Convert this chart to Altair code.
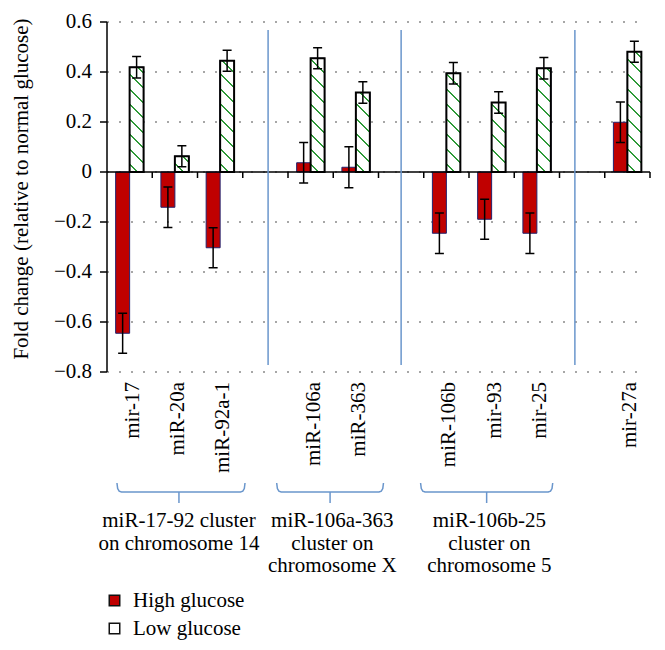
import math
import altair as alt
import pandas as pd

# ---------------- data ----------------
categories = ['mir-17', 'miR-20a', 'miR-92a-1', '', 'miR-106a', 'miR-363', '',
              'miR-106b', 'mir-93', 'mir-25', '', 'mir-27a']
mirnas = ['mir-17', 'miR-20a', 'miR-92a-1', 'miR-106a', 'miR-363',
          'miR-106b', 'mir-93', 'mir-25', 'mir-27a']
high_glucose = [-0.645, -0.141, -0.303, 0.037, 0.019, -0.245, -0.189, -0.245, 0.199]
high_err = [0.080, 0.081, 0.080, 0.081, 0.082, 0.081, 0.080, 0.081, 0.081]
low_glucose = [0.419, 0.063, 0.445, 0.455, 0.318, 0.395, 0.278, 0.415, 0.481]
low_err = [0.043, 0.042, 0.042, 0.042, 0.043, 0.043, 0.043, 0.043, 0.042]
groups = ['High glucose', 'Low glucose']
y_ticks = [-0.8, -0.6, -0.4, -0.2, 0, 0.2, 0.4, 0.6]
y_tick_labels = ['\u22120.8', '\u22120.6', '\u22120.4', '\u22120.2', '0', '0.2', '0.4', '0.6']
y_title = 'Fold change (relative to normal glucose)'
cluster_labels = ['miR-17-92 cluster\non chromosome 14',
                  'miR-106a-363\ncluster on\nchromosome X',
                  'miR-106b-25\ncluster on\nchromosome 5']

# ---------------- layout / style ----------------
W, H = 543, 350
TOP = 22
Y_MIN, Y_MAX = -0.8, 0.6
PPU = H / (Y_MAX - Y_MIN)
N_BANDS = len(categories)
PX_UNIT = W / N_BANDS
BW = 13.97 / PX_UNIT          # bar width in band units
CAP = 4.5 / PX_UNIT           # half cap width in band units
FONT = 'Liberation Serif'
FS = 21
RED = '#C00000'
GREEN = '#2E9A38'
BLUE = '#6A96CC'

sep_pos = [3.56, 6.5, 10.34]
brace_spans = [(0.22, 3.05, 1.59), (3.75, 6.11, 4.93), (6.93, 9.85, 8.39)]
label_centers = [1.59, 4.98, 8.45]


def y_of_px(px):
    return Y_MAX - (px - TOP) / PPU


def u(px):
    """horizontal pixel distance -> band units"""
    return px / PX_UNIT


idx = {c: i for i, c in enumerate(categories) if c}

rows = []
for i, m in enumerate(mirnas):
    c = idx[m] + 0.5
    rows.append(dict(cat=m, group=groups[0], v=high_glucose[i], x0=c - BW, x1=c, xc=c - BW / 2,
                     lo=high_glucose[i] - high_err[i], hi=high_glucose[i] + high_err[i]))
    rows.append(dict(cat=m, group=groups[1], v=low_glucose[i], x0=c, x1=c + BW, xc=c + BW / 2,
                     lo=low_glucose[i] - low_err[i], hi=low_glucose[i] + low_err[i]))
df = pd.DataFrame(rows)
df['zero'] = 0.0
df['ca'] = df['xc'] - CAP
df['cb'] = df['xc'] + CAP

xs = alt.Scale(domain=[0, N_BANDS], nice=False, zero=False)
ys = alt.Scale(domain=[Y_MIN, Y_MAX], nice=False, zero=False)


def X(f):
    return alt.X(f, scale=xs, axis=None)


def Y(f):
    return alt.Y(f, scale=ys, axis=None)


# ---------------- value axis (drawn through the y scale) ----------------
yt = pd.DataFrame({'y': y_ticks, 't': y_tick_labels})
yt['x0'] = 0.0
yt['xg'] = float(N_BANDS) - u(5)
yt['xt'] = -u(7)
yt['xl'] = -u(15)
grid = alt.Chart(yt).mark_rule(color='#8a8a8a', strokeWidth=1.5, strokeDash=[2, 10]).encode(
    x=X('x0:Q'), x2='xg:Q', y=Y('y:Q'))
y_tick_marks = alt.Chart(yt).mark_rule(color='black', strokeWidth=1.5).encode(
    x=X('xt:Q'), x2='x0:Q', y=Y('y:Q'))
y_labels = alt.Chart(yt).mark_text(
    font=FONT, fontSize=FS, color='black', align='right', baseline='middle').encode(
    x=X('xl:Q'), y=Y('y:Q'), text='t:N')
y_dom_df = pd.DataFrame({'x': [0.0], 'y': [Y_MIN], 'y2': [Y_MAX]})
y_domain = alt.Chart(y_dom_df).mark_rule(color='black', strokeWidth=1.5).encode(
    x=X('x:Q'), y=Y('y:Q'), y2='y2:Q')
yt_df = pd.DataFrame({'x': [-u(85)], 'y': [y_of_px(189)], 't': [y_title]})
y_title_mark = alt.Chart(yt_df).mark_text(
    font=FONT, fontSize=FS, color='black', angle=270, align='center', baseline='middle').encode(
    x=X('x:Q'), y=Y('y:Q'), text='t:N')

base = alt.Chart(df)

main_bars = base.mark_bar(strokeWidth=1).encode(
    x=X('x0:Q'), x2='x1:Q',
    y=Y('v:Q'), y2='zero:Q',
    fill=alt.Fill('group:N', scale=alt.Scale(domain=groups, range=[RED, '#FFFFFF']),
                  legend=alt.Legend(title=None, orient='none', legendX=-3, legendY=568,
                                    symbolType='square', symbolSize=110,
                                    symbolStrokeWidth=1.5, symbolStrokeColor='#111111',
                                    labelFont=FONT, labelFontSize=FS, labelColor='black',
                                    labelOffset=8, rowPadding=6, padding=0)),
    stroke=alt.value('#22226e'),
)


def hatch(value):
    w = 13.97
    h = value * PPU
    t = (w + h) / (w * w + h * h)
    L = (w + h) / math.sqrt(2)
    sp = 10.6
    hw = 0.7
    stops = [{'offset': 0, 'color': 'white'}]
    d = sp * 0.55
    while d + hw < L:
        o1 = (d - hw) / L
        o2 = (d + hw) / L
        stops += [{'offset': o1, 'color': 'white'}, {'offset': o1, 'color': GREEN},
                  {'offset': o2, 'color': GREEN}, {'offset': o2, 'color': 'white'}]
        d += sp
    stops.append({'offset': 1, 'color': 'white'})
    return {'gradient': 'linear', 'x1': 0, 'y1': 1, 'x2': t * w, 'y2': 1 - t * h,
            'stops': stops}


hatch_layers = []
for i, m in enumerate(mirnas):
    hatch_layers.append(
        base.transform_filter((alt.datum.cat == m) & (alt.datum.group == groups[1]))
        .mark_bar(fill=hatch(low_glucose[i]), stroke='black', strokeWidth=2)
        .encode(x=X('x0:Q'), x2='x1:Q', y=Y('v:Q'), y2='zero:Q')
    )

err_rules = base.mark_rule(color='black', strokeWidth=1.5).encode(
    x=X('xc:Q'), y=Y('lo:Q'), y2='hi:Q')
cap_lo = base.mark_rule(color='black', strokeWidth=1.5).encode(
    x=X('ca:Q'), x2='cb:Q', y=Y('lo:Q'))
cap_hi = base.mark_rule(color='black', strokeWidth=1.5).encode(
    x=X('ca:Q'), x2='cb:Q', y=Y('hi:Q'))

# horizontal category axis drawn at zero, with ticks at band boundaries
zero_df = pd.DataFrame({'x': [0.0], 'x2': [float(N_BANDS)], 'y': [0.0]})
zero_line = alt.Chart(zero_df).mark_rule(color='black', strokeWidth=1.5).encode(
    x=X('x:Q'), x2='x2:Q', y=Y('y:Q'))
bt_df = pd.DataFrame({'x': [float(k) for k in range(1, N_BANDS + 1)]})
bt_df['y'] = 0.0
bt_df['y2'] = -6 / PPU
band_ticks = alt.Chart(bt_df).mark_rule(color='black', strokeWidth=1.5).encode(
    x=X('x:Q'), y=Y('y:Q'), y2='y2:Q')

# category labels under the plot
cat_df = pd.DataFrame({'t': mirnas, 'x': [idx[m] + 0.5 for m in mirnas],
                       'y': [y_of_px(382)] * len(mirnas)})
cat_labels = alt.Chart(cat_df).mark_text(
    font=FONT, fontSize=FS, color='black', angle=270, align='right', baseline='middle',
    dy=3).encode(x=X('x:Q'), y=Y('y:Q'), text='t:N')

sep_df = pd.DataFrame({'x': sep_pos, 'y': [0.568] * 3, 'y2': [-0.772] * 3})
seps = alt.Chart(sep_df).mark_rule(color=BLUE, strokeWidth=1.5).encode(
    x=X('x:Q'), y=Y('y:Q'), y2='y2:Q')

hook = [(0, 483), (0.7, 488.5), (2.2, 491.2), (4.5, 492)]
pts = []
for b, (l, r, c) in enumerate(brace_spans):
    seq = [(l + u(dx), py) for dx, py in hook] + \
          [(r - u(dx), py) for dx, py in reversed(hook)]
    for j, (xx, py) in enumerate(seq):
        pts.append(dict(b=b, i=j, x=xx, y=y_of_px(py)))
brace_df = pd.DataFrame(pts)
braces = alt.Chart(brace_df).mark_line(color=BLUE, strokeWidth=1.5).encode(
    x=X('x:Q'), y=Y('y:Q'), detail='b:N', order='i:Q')

tick_df = pd.DataFrame({'x': [c for _, _, c in brace_spans],
                        'y': [y_of_px(492)] * 3, 'y2': [y_of_px(503)] * 3})
brace_ticks = alt.Chart(tick_df).mark_rule(color=BLUE, strokeWidth=1.5).encode(
    x=X('x:Q'), y=Y('y:Q'), y2='y2:Q')

lab_df = pd.DataFrame({'x': label_centers, 'y': [y_of_px(527)] * 3, 't': cluster_labels})
labels = alt.Chart(lab_df).mark_text(
    font=FONT, fontSize=FS, color='black', align='center', baseline='alphabetic',
    lineBreak='\n', lineHeight=22.5).encode(x=X('x:Q'), y=Y('y:Q'), text='t:N')

chart = alt.layer(
    grid, main_bars, *hatch_layers, err_rules, cap_lo, cap_hi, zero_line, band_ticks,
    y_domain, y_tick_marks, y_labels, y_title_mark,
    seps, braces, brace_ticks, labels, cat_labels
).properties(
    width=W, height=H,
    autosize=alt.AutoSizeParams(type='none'),
    padding={'left': 99, 'top': 14, 'right': 7, 'bottom': 270},
    background='white',
).configure_view(stroke=None)

chart.save('out.html', embed_options={'renderer': 'svg', 'actions': False})
